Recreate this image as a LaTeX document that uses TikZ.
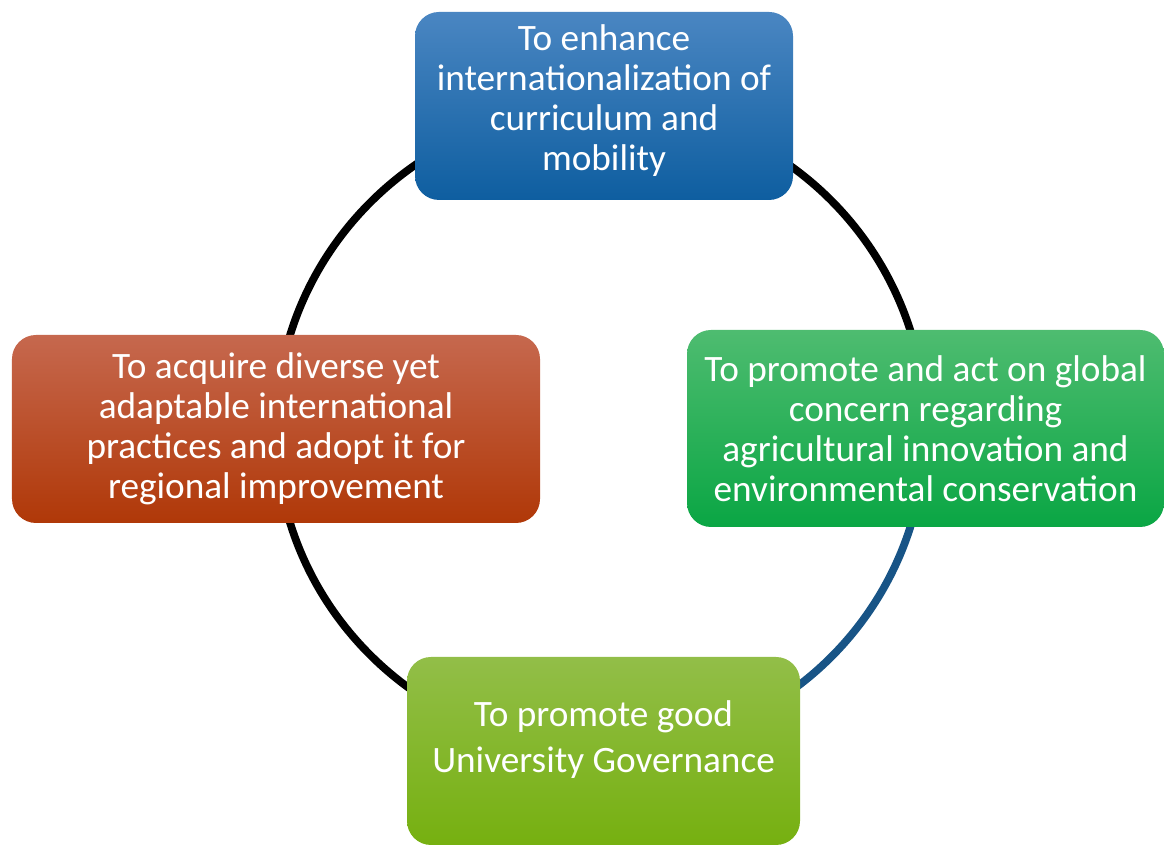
\documentclass[tikz,border=0pt]{standalone}
\usepackage{fontspec}
\setmainfont{Carlito}
\usepackage{tikz}
\usetikzlibrary{backgrounds}
\definecolor{aimblueA}{RGB}{74,134,194}
\definecolor{aimblueB}{RGB}{14,94,160}
\definecolor{aimgreenA}{RGB}{78,188,112}
\definecolor{aimgreenB}{RGB}{10,166,68}
\definecolor{aimredA}{RGB}{198,104,78}
\definecolor{aimredM}{RGB}{192,72,22}
\definecolor{aimredB}{RGB}{176,56,8}
\definecolor{aimlimeA}{RGB}{146,190,72}
\definecolor{aimlimeB}{RGB}{118,176,16}
\definecolor{ringblue}{RGB}{24,84,134}

\begin{document}
\begin{tikzpicture}
      \useasboundingbox (0,0) rectangle (11.64,8.47);
      \begin{scope}[every node/.style={rectangle, rounded corners=0.24cm, align=center,
                    text=white, minimum height=1.88cm,
                    font=\fontsize{10.6pt}{11.4pt}\selectfont}]
          \node[top color=aimblueA, bottom color=aimblueB, minimum width=3.78cm]
              (T) at (6.04,7.41) {To enhance\\internationalization of\\curriculum and\\mobility\\[-0.23cm]\mbox{}};
          \node[top color=aimgreenA, bottom color=aimgreenB, minimum width=4.77cm, minimum height=1.97cm]
              (R) at (9.255,4.185) {To promote and act on global\\concern regarding\\agricultural innovation and\\environmental conservation};
          \node[top color=aimredA, middle color=aimredM, bottom color=aimredB, minimum width=5.28cm]
              (L) at (2.76,4.18) {To acquire diverse yet\\adaptable international\\practices and adopt it for\\regional improvement};
          \node[top color=aimlimeA, bottom color=aimlimeB, minimum width=3.93cm,
                font=\fontsize{10.6pt}{13.1pt}\selectfont]
              (B) at (6.035,0.96) {To promote good\\University Governance\\[-0.17cm]\mbox{}};
      \end{scope}

      \begin{scope}[on background layer,
                    every edge/.style={draw, line width=2.2pt}]
          \path (T.center) edge[out=0, in=90] (R.center);
          \path (R.center) edge[out=-90, in=0, draw=ringblue] (B.center);
          \path (B.center) edge[out=180, in=-90] (L.center);
          \path (L.center) edge[out=90, in=180] (T.center);
      \end{scope}
      \end{tikzpicture}
\end{document}
